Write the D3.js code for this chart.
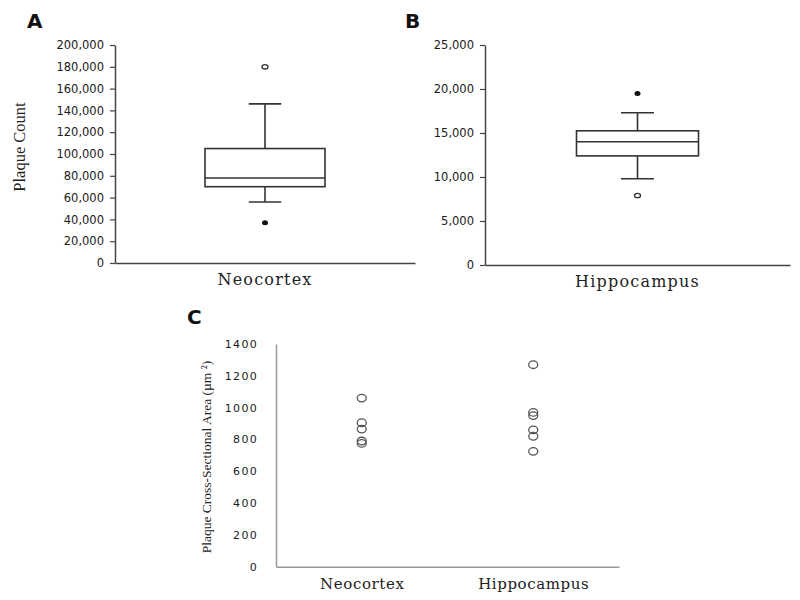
<!DOCTYPE html>
<html><head><meta charset="utf-8">
<script src="https://cdn.jsdelivr.net/npm/d3@7"></script>
<style>body{margin:0;background:#fff}</style>
</head><body>
<svg id="chart" width="800" height="600"></svg>
<script>
// Panel A: Neocortex plaque count box plot
const catA = ["Neocortex"];
const statsA = [{min: 56000, q1: 70000, median: 78000, q3: 105000, max: 146000}];
const openOutA = [180000];
const filledOutA = [37000];
const ticksA = [0, 20000, 40000, 60000, 80000, 100000, 120000, 140000, 160000, 180000, 200000];

// Panel B: Hippocampus plaque count box plot
const catB = ["Hippocampus"];
const statsB = [{min: 9800, q1: 12400, median: 14000, q3: 15250, max: 17300}];
const openOutB = [7900];
const filledOutB = [19500];
const ticksB = [0, 5000, 10000, 15000, 20000, 25000];

// Panel C: cross-sectional area points
const catC = ["Neocortex", "Hippocampus"];
const neoArea = [1060, 905, 865, 790, 775];
const hipArea = [1270, 970, 950, 860, 820, 725];
const ticksC = [0, 200, 400, 600, 800, 1000, 1200, 1400];

const svg = d3.select("#chart");
const fmt = d3.format(",");
const axisCol = "#444";

function boxPanel(opt) {
  const g = svg.append("g");
  const y = d3.scaleLinear().domain([0, opt.ymax]).range([opt.y0, opt.y1]);
  const x = d3.scaleBand().domain(opt.cats).range([opt.x0, opt.x1]).paddingInner(0).paddingOuter(0.75);
  const yAx = g.append("g").attr("transform", `translate(${opt.x0},0)`)
    .call(d3.axisLeft(y).tickValues(opt.ticks).tickFormat(fmt).tickSize(5).tickPadding(6).tickSizeOuter(0));
  yAx.select(".domain").attr("stroke", axisCol).attr("stroke-width", 1.5);
  yAx.selectAll(".tick line").attr("stroke", axisCol).attr("stroke-width", 1.2);
  yAx.selectAll(".tick text").attr("font-family", "DejaVu Sans").attr("font-size", 11.5).attr("fill", "#1a1a1a");
  const xAx = g.append("g").attr("transform", `translate(0,${opt.y0})`)
    .call(d3.axisBottom(x).tickSize(0).tickPadding(11));
  xAx.select(".domain").attr("stroke", axisCol).attr("stroke-width", 1.5);
  xAx.selectAll(".tick text").attr("font-family", "DejaVu Serif").attr("font-size", 16)
    .attr("letter-spacing", 1.2).attr("fill", "#222");
  opt.cats.forEach((c, i) => {
    const s = opt.stats[i];
    const cx = x(c) + x.bandwidth() / 2;
    const bw = x.bandwidth();
    const cap = bw * 0.135;
    const line = (x1, y1, x2, y2) => g.append("line").attr("x1", x1).attr("y1", y1).attr("x2", x2).attr("y2", y2)
      .attr("stroke", "#333").attr("stroke-width", 1.6);
    line(cx, y(s.q3), cx, y(s.max));
    line(cx, y(s.q1), cx, y(s.min));
    line(cx - cap, y(s.max), cx + cap, y(s.max));
    line(cx - cap, y(s.min), cx + cap, y(s.min));
    g.append("rect").attr("x", x(c)).attr("y", y(s.q3)).attr("width", bw)
      .attr("height", y(s.q1) - y(s.q3)).attr("fill", "none").attr("stroke", "#333").attr("stroke-width", 1.6);
    line(x(c), y(s.median), x(c) + bw, y(s.median));
    opt.openOut.forEach(v => g.append("ellipse").attr("cx", cx).attr("cy", y(v)).attr("rx", 3).attr("ry", 2.2)
      .attr("fill", "none").attr("stroke", "#333").attr("stroke-width", 1.3));
    opt.filledOut.forEach(v => g.append("ellipse").attr("cx", cx).attr("cy", y(v)).attr("rx", 3).attr("ry", 2.5)
      .attr("fill", "#111"));
  });
}

boxPanel({cats: catA, stats: statsA, openOut: openOutA, filledOut: filledOutA, ticks: ticksA,
  ymax: 200000, y0: 263, y1: 45, x0: 115, x1: 415});
boxPanel({cats: catB, stats: statsB, openOut: openOutB, filledOut: filledOutB, ticks: ticksB,
  ymax: 25000, y0: 265, y1: 45, x0: 485, x1: 790});

// Y label A
svg.append("text").attr("transform", "translate(25,147) rotate(-90)").attr("text-anchor", "middle")
  .attr("font-family", "Liberation Serif").attr("font-size", 16.5).attr("fill", "#222").text("Plaque Count");

// Panel C
{
  const g = svg.append("g");
  const y = d3.scaleLinear().domain([0, 1400]).range([566.7, 344]);
  const x = d3.scalePoint().domain(catC).range([276, 619]).padding(0.5);
  const yAx = g.append("g").attr("transform", "translate(276,0)")
    .call(d3.axisLeft(y).tickValues(ticksC).tickSize(0).tickPadding(18).tickFormat(d3.format("d")));
  yAx.select(".domain").attr("stroke", "#999").attr("stroke-width", 1.5);
  yAx.selectAll(".tick text").attr("font-family", "DejaVu Sans").attr("font-size", 11)
    .attr("letter-spacing", 1.3).attr("fill", "#1a1a1a");
  const xAx = g.append("g").attr("transform", "translate(0,566.7)")
    .call(d3.axisBottom(x).tickSize(0).tickPadding(12).tickSizeOuter(0));
  xAx.select(".domain").attr("stroke", "#999").attr("stroke-width", 1.5);
  xAx.selectAll(".tick text").attr("font-family", "DejaVu Serif").attr("font-size", 15)
    .attr("letter-spacing", 0.6).attr("fill", "#222");
  const series = [[catC[0], neoArea], [catC[1], hipArea]];
  series.forEach(([c, vals]) => {
    g.selectAll(null).data(vals).enter().append("ellipse")
      .attr("cx", x(c)).attr("cy", d => y(d)).attr("rx", 4.5).attr("ry", 3.8)
      .attr("fill", "none").attr("stroke", "#555").attr("stroke-width", 1.3);
  });
  svg.append("text").attr("transform", "translate(211,457) rotate(-90)").attr("text-anchor", "middle")
    .attr("font-family", "Liberation Serif").attr("font-size", 13.5).attr("fill", "#222")
    .text("Plaque Cross-Sectional Area (µm ²)");
}

// Panel letters
const letters = [["A", 27, 28], ["B", 405, 28], ["C", 187, 324]];
svg.selectAll(".plabel").data(letters).enter().append("text")
  .attr("x", d => d[1]).attr("y", d => d[2]).attr("font-family", "DejaVu Sans").attr("font-weight", "bold")
  .attr("font-size", 20).attr("fill", "#111").text(d => d[0]);
</script>
</body></html>
